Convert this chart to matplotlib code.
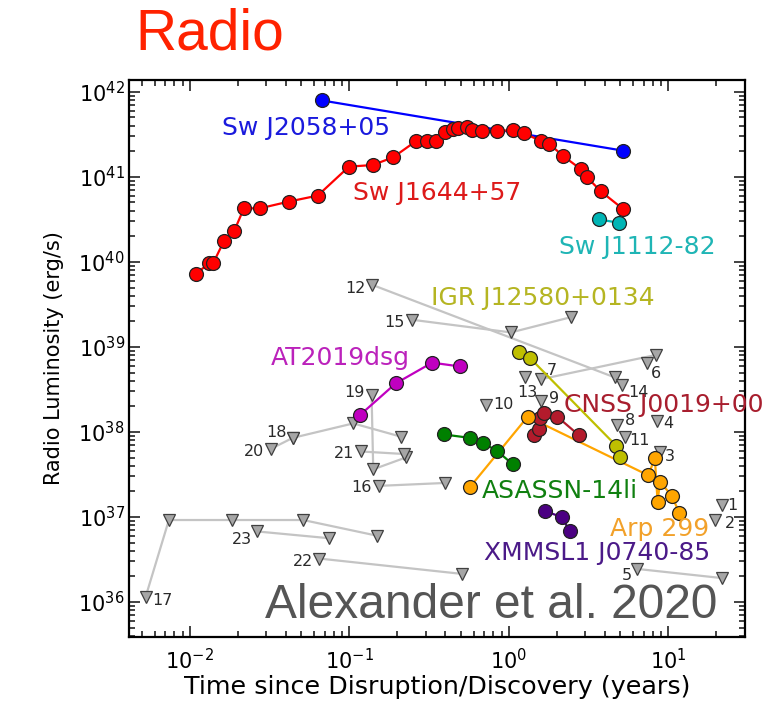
import matplotlib
matplotlib.use("Agg")
import matplotlib.pyplot as plt
import matplotlib.ticker as mticker

# ---------------- data ----------------
swj2058_t = [0.067, 5.16]
swj2058_L = [7.94e41, 2.04e41]

swj1644_t = [0.0109, 0.0132, 0.0140, 0.0163, 0.0190, 0.0218, 0.0275, 0.0418, 0.0633,
             0.0993, 0.140, 0.188, 0.261, 0.308, 0.351, 0.397, 0.448, 0.481, 0.543,
             0.583, 0.675, 0.837, 1.06, 1.25, 1.60, 1.79, 2.17, 2.83, 3.07, 3.77, 5.21]
swj1644_L = [7.2e39, 9.7e39, 9.7e39, 1.74e40, 2.34e40, 4.27e40, 4.27e40, 5.13e40, 6.03e40,
             1.32e41, 1.38e41, 1.70e41, 2.63e41, 2.63e41, 2.63e41, 3.39e41, 3.67e41, 3.72e41,
             3.89e41, 3.55e41, 3.51e41, 3.47e41, 3.55e41, 3.24e41, 2.63e41, 2.45e41, 1.78e41,
             1.23e41, 1.00e41, 6.76e40, 4.17e40]

swj1112_t = [3.67, 4.92]
swj1112_L = [3.16e40, 2.88e40]

igr_t = [1.16, 1.355, 4.69, 4.97]
igr_L = [8.81e38, 7.41e38, 6.92e37, 5.01e37]

at2019dsg_t = [0.1165, 0.195, 0.330, 0.493]
at2019dsg_L = [1.58e38, 3.72e38, 6.53e38, 5.89e38]

cnss_t = [1.44, 1.54, 1.56, 1.66, 2.01, 2.75]
cnss_L = [9.23e37, 1.07e38, 1.45e38, 1.66e38, 1.51e38, 9.12e37]

asassn_t = [0.393, 0.569, 0.684, 0.838, 1.055]
asassn_L = [9.33e37, 8.51e37, 7.41e37, 6.03e37, 4.17e37]

arp299_t = [0.569, 1.31, 7.47, 8.22, 8.55, 8.85, 10.47, 11.7]
arp299_L = [2.24e37, 1.51e38, 3.09e37, 4.90e37, 1.51e37, 2.60e37, 1.78e37, 1.12e37]

xmmsl1_t = [1.68, 2.14, 2.41]
xmmsl1_L = [1.17e37, 1.00e37, 6.76e36]

# upper limits (numbered sources)
lim_names = ["1", "2", "3", "4", "5", "6", "7", "8", "9", "10", "11", "12",
             "13", "14", "15", "16", "17", "18", "19", "20", "21", "22", "23"]
lim_t = [
    [21.6], [19.6], [8.85], [8.43], [6.32, 21.6], [7.36], [1.59, 8.32], [4.73],
    [1.60], [0.718], [5.34], [0.139, 4.62], [1.26], [5.09], [0.2455, 1.03, 2.45],
    [0.153, 0.397], [0.00527, 0.00738, 0.0184, 0.0513, 0.148], [0.0441, 0.1057, 0.2095],
    [0.1377, 0.141, 0.226], [0.0321, 0.0441], [0.118, 0.2198], [0.0647, 0.505],
    [0.0262, 0.0743]]
lim_L = [
    [1.38e37], [9.2e36], [5.75e37], [1.36e38], [2.45e36, 1.91e36], [6.46e38],
    [4.17e38, 8.04e38], [1.20e38], [2.32e38], [2.09e38], [8.71e37], [5.37e39, 4.37e38],
    [4.37e38], [3.55e38], [2.09e39, 1.48e39, 2.24e39], [2.32e37, 2.51e37],
    [1.14e36, 9.2e36, 9.2e36, 9.2e36, 6.03e36], [8.51e37, 1.26e38, 8.81e37],
    [2.72e38, 3.63e37, 5.01e37], [6.31e37, 8.51e37], [5.89e37, 5.50e37],
    [3.24e36, 2.14e36], [6.76e36, 5.62e36]]

# ---------------- layout ----------------
W, H = 768, 710
lim_label_offset = {  # pixels (dx, dy) from the first marker
    "1": (11, 0), "2": (15, -3), "3": (10, -4), "4": (12, -3), "5": (-10, -7),
    "6": (9, -10), "7": (11, 9), "8": (13, 5), "9": (13, 2), "10": (17, 0),
    "11": (15, -3), "12": (-17, -4), "13": (2, -15), "14": (17, -7), "15": (-17, -3),
    "16": (-17, -2), "17": (17, -3), "18": (-16, 5), "19": (-17, 2), "20": (-17, -3),
    "21": (-17, -2), "22": (-16, -3), "23": (-15, -8)}

fig = plt.figure(figsize=(W / 100, H / 100), dpi=100)
ax = fig.add_axes([129 / W, 1 - 637 / H, (745 - 129) / W, (637 - 80) / H])
ax.set_xscale("log")
ax.set_yscale("log")
ax.set_xlim(0.00415, 30.2)
ax.set_ylim(3.87e35, 1.38e42)

# gray upper limits
for name, tt, LL in zip(lim_names, lim_t, lim_L):
    ax.plot(tt, LL, "-", color="#c4c4c4", lw=1.6, zorder=2)
    ax.plot(tt, LL, "v", ms=9, mfc="#a6a6a6", mec="#404040", mew=0.9, zorder=3)
    dx, dy = lim_label_offset[name]
    ax.annotate(name, (tt[0], LL[0]), xytext=(dx, dy), textcoords="offset pixels",
                ha="center", va="center", fontsize=11.5, color="#2a2a2a", zorder=4)

series = [
    (swj2058_t, swj2058_L, "#0000ff"),
    (swj1644_t, swj1644_L, "#ff0000"),
    (swj1112_t, swj1112_L, "#00b5b5"),
    (igr_t, igr_L, "#bfbf00"),
    (at2019dsg_t, at2019dsg_L, "#c000c0"),
    (cnss_t, cnss_L, "#b31b2c"),
    (asassn_t, asassn_L, "#008000"),
    (arp299_t, arp299_L, "#ffa500"),
    (xmmsl1_t, xmmsl1_L, "#4b0082"),
]
for tt, LL, c in series:
    ax.plot(tt, LL, "-", color=c, lw=1.6, zorder=5)
    ax.plot(tt, LL, "o", ms=10, mfc=c, mec="#222222", mew=0.9, zorder=6)

labels = [
    ("Sw J2058+05", 306, 128, "#1a1add"),
    ("Sw J1644+57", 437, 193, "#dd1a1a"),
    ("Sw J1112-82", 637, 247, "#1fb5b5"),
    ("IGR J12580+0134", 543, 298, "#b5b522"),
    ("AT2019dsg", 340, 358, "#bb22bb"),
    ("CNSS J0019+00", 664, 405, "#a81e2e"),
    ("ASASSN-14li", 560, 491, "#108010"),
    ("Arp 299", 660, 529, "#f2a12a"),
    ("XMMSL1 J0740-85", 597, 553, "#4b1a88"),
]
for txt, px, py, c in labels:
    fig.text(px / W, 1 - py / H, txt, ha="center", va="center", fontsize=18, color=c,
             zorder=10)

fig.text(491 / W, 1 - 606 / H, "Alexander et al. 2020", ha="center", va="center",
         fontsize=34.5, color="#555555", family="Liberation Sans", zorder=10)
fig.text(210 / W, 1 - 34 / H, "Radio", ha="center", va="center", fontsize=41,
         color="#ff2200", family="Liberation Sans")

ax.set_xlabel("Time since Disruption/Discovery (years)", fontsize=18.3, labelpad=1)
ax.set_ylabel("Radio Luminosity (erg/s)", fontsize=15, labelpad=10)

ax.xaxis.set_major_locator(mticker.LogLocator(base=10, numticks=20))
ax.yaxis.set_major_locator(mticker.LogLocator(base=10, numticks=20))
ax.xaxis.set_minor_locator(mticker.LogLocator(base=10, subs=range(2, 10), numticks=50))
ax.yaxis.set_minor_locator(mticker.LogLocator(base=10, subs=range(2, 10), numticks=50))
ax.xaxis.set_minor_formatter(mticker.NullFormatter())
ax.yaxis.set_minor_formatter(mticker.NullFormatter())
ax.tick_params(which="both", direction="in", top=True, right=True, labelsize=15,
               width=1.2, color="#222222")
ax.tick_params(which="major", length=8)
ax.tick_params(axis="x", which="major", pad=8)
ax.tick_params(axis="y", which="major", pad=3)
ax.tick_params(which="minor", length=4)
for s in ax.spines.values():
    s.set_linewidth(1.6)

fig.savefig("out.png", dpi=100)
